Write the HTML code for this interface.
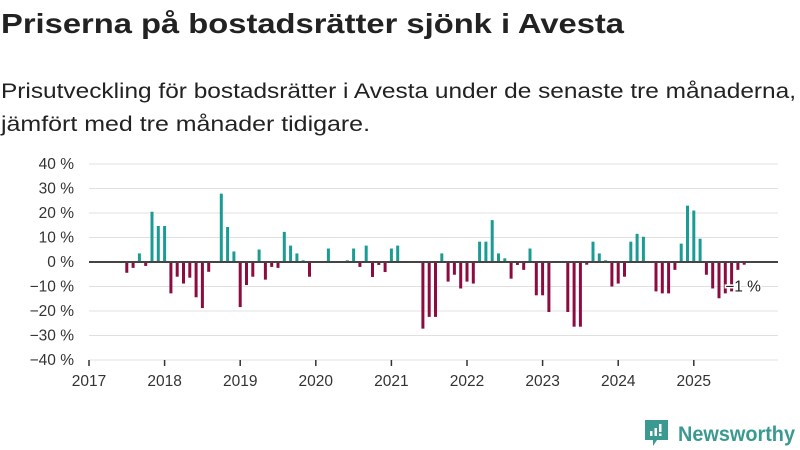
<!DOCTYPE html>
<html><head><meta charset="utf-8"><style>
body{margin:0;background:#fff;width:800px;height:450px;overflow:hidden;font-family:"Liberation Sans",sans-serif;color:#222}
svg{position:absolute;left:0;top:0}
</style></head><body>
<svg width="800" height="450" style="font-family:'Liberation Sans',sans-serif">
<text x="1" y="33" font-size="28" font-weight="bold" fill="#222" textLength="623" lengthAdjust="spacingAndGlyphs">Priserna på bostadsrätter sjönk i Avesta</text>
<text x="1" y="98" font-size="21" fill="#222" textLength="795" lengthAdjust="spacingAndGlyphs">Prisutveckling för bostadsrätter i Avesta under de senaste tre månaderna,</text>
<text x="1" y="131" font-size="21" fill="#222" textLength="369" lengthAdjust="spacingAndGlyphs">jämfört med tre månader tidigare.</text>
<g>
<path d="M645 420h23v20h-11l-4 6v-6h-8z" fill="#3a9a91"/><rect x="650" y="431" width="2.5" height="5" fill="#fff"/><rect x="654.5" y="428" width="2.5" height="8" fill="#fff"/><rect x="659" y="424" width="2.5" height="8" fill="#fff"/><rect x="659" y="433.5" width="2.5" height="2.5" fill="#fff"/>
<text x="678" y="441" font-size="21" font-weight="bold" fill="#3a9a91" textLength="117" lengthAdjust="spacingAndGlyphs">Newsworthy</text>
</g>
</svg>
<svg id="chart" width="800" height="450"></svg>
<script>
const values = [null,null,null,null,null,null,-4.4,-2.4,3.5,-1.6,20.5,14.7,14.7,-12.8,-6,-8.8,-6.4,-14.4,-18.8,-4,null,27.9,14.3,4.3,-18.4,-9.4,-6,5.1,-7.2,-2,-2.4,12.3,6.7,3.5,0.7,-6,null,null,5.5,null,null,0.7,5.5,-2,6.7,-6.1,-1.2,-4.1,5.5,6.7,null,null,null,-27.2,-22.4,-22.4,3.5,-8,-5.2,-10.8,-8,-8.8,8.3,8.3,17.1,3.5,1.5,-6.8,-1.2,-3.2,5.5,-13.6,-13.6,-20.4,null,null,-20.4,-26.4,-26.4,-1.1,8.3,3.5,0.7,-10,-8.8,-6,8.3,11.5,10.3,null,-12,-12.8,-12.8,-3.2,7.5,23,21,9.5,-5.2,-10.8,-14.8,-12.8,-12,-3.2,-1.1];
const yTicks = [40,30,20,10,0,-10,-20,-30,-40];
const years = [2017,2018,2019,2020,2021,2022,2023,2024,2025];
const lastLabel = "−1 %";
const NS="http://www.w3.org/2000/svg", svg=document.getElementById('chart');
const y = v => 262 - v*2.45;
const x = i => 89 + i*75.6/12;
function el(t,a){const e=document.createElementNS(NS,t);for(const k in a)e.setAttribute(k,a[k]);svg.appendChild(e);return e;}
yTicks.forEach(t=>{
  const g=el('line',{x1:89,x2:778,y1:y(t),y2:y(t),stroke:'#e0e0e0','stroke-width':1});
  
  
  const l=el('text',{x:74,y:y(t)+5,'text-anchor':'end','font-size':15.5,fill:'#333','font-family':'Liberation Sans, sans-serif'});
  l.textContent=(t<0?'−'+(-t):t)+' %';
  
  
});
years.forEach((yr,k)=>{
  const xx=x(k*12);
  const t=el('line',{x1:xx,x2:xx,y1:360,y2:366,stroke:'#333','stroke-width':1.5});
  
  
  const l=el('text',{x:xx,y:386,'text-anchor':'middle','font-size':15.5,fill:'#333','font-family':'Liberation Sans, sans-serif'});
  l.textContent=yr;
  
  
});
values.forEach((v,i)=>{
  if(v===null)return;
  const y0=y(0),y1=y(v);
  const b=el('rect',{x:x(i)-1.5,y:Math.min(y0,y1),width:3,height:Math.abs(y1-y0),fill:v>=0?'#1a9c94':'#8c0c40'});
  
  
});
const z=el('line',{x1:89,x2:778,y1:y(0),y2:y(0),stroke:'#444','stroke-width':2});


const li=values.length-1;
const lab=el('text',{x:x(li)-19,y:y(values[li])+27,'font-size':15.5,fill:'#222',stroke:'#fff','stroke-width':3,'paint-order':'stroke','font-family':'Liberation Sans, sans-serif'});
lab.textContent=lastLabel;


</script>
</body></html>
